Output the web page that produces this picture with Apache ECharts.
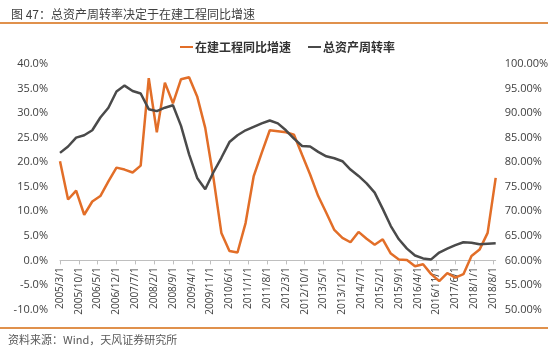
<!DOCTYPE html>
<html>
<head>
    <meta charset="UTF-8">
    <title>总资产周转率决定于在建工程同比增速</title>
    <style>
        html, body { margin: 0; padding: 0; background: #fff; }
        #main { width: 550px; height: 351px; }
    </style>
</head>
<body>
<div id="main"></div>
<script src="https://cdn.jsdelivr.net/npm/echarts@6/dist/echarts.min.js"></script>
<script>
    // 季度数据，起点 2005/3，终点 2018/9
    var startYear = 2005, startMonth = 3, monthCount = 163;
    var seriesNames = ['在建工程同比增速', '总资产周转率'];
    // 在建工程同比增速 (%)，左轴
    var cipGrowth = [20.2, 12.4, 14.2, 9.3, 12.0, 13.1, 16.1, 18.9, 18.5, 17.9,
        19.3, 37.1, 26.1, 36.2, 32.0, 36.9, 37.3, 33.4, 27.0, 17.0,
        5.6, 1.9, 1.6, 7.6, 17.1, 21.9, 26.5, 26.3, 26.1, 25.6,
        21.5, 17.5, 13.1, 9.7, 6.2, 4.6, 3.7, 5.8, 4.4, 3.2,
        4.3, 1.4, 0.2, 0.1, -1.2, -0.8, -2.8, -4.2, -2.6, -3.5,
        -2.8, 0.9, 2.2, 5.6, 16.8];
    // 总资产周转率 (%)，右轴
    var assetTurnover = [81.9, 83.2, 85.0, 85.5, 86.5, 89.1, 91.1, 94.4, 95.6, 94.5,
        94.0, 90.8, 90.4, 91.1, 91.6, 87.4, 81.6, 76.8, 74.5, 77.9,
        80.9, 84.1, 85.5, 86.5, 87.2, 87.9, 88.5, 87.9, 86.5, 84.8,
        83.3, 83.2, 82.1, 81.2, 80.8, 80.2, 78.5, 77.2, 75.7, 73.8,
        70.5, 67.0, 64.3, 62.4, 61.0, 60.4, 60.2, 61.6, 62.4, 63.1,
        63.7, 63.6, 63.3, 63.4, 63.5];
    var leftTicks = { min: -10, max: 40, interval: 5 };
    var rightTicks = { min: 50, max: 100, interval: 5 };

    // 月度横轴，季度数据落在每三个月一个点上
    var months = [];
    for (var i = 0; i < monthCount; i++) {
        var m = startMonth - 1 + i;
        months.push((startYear + Math.floor(m / 12)) + '/' + (m % 12 + 1) + '/1');
    }
    function toMonthly(arr) {
        var out = [];
        for (var i = 0; i < monthCount; i++) out.push(null);
        for (var j = 0; j < arr.length; j++) out[j * 3] = arr[j];
        return out;
    }

    var gridTop = 64, gridBottom = 41.5, chartH = 351;
    // 横轴放在左轴 0 的位置（Excel 默认交叉点）
    var plotH = chartH - gridTop - gridBottom;
    var zeroOffset = -plotH * (0 - leftTicks.min) / (leftTicks.max - leftTicks.min);

    var numFont = 'Open Sans';
    var cjkFont = 'Noto Sans CJK SC';
    var myChart = echarts.init(document.getElementById('main'));
    myChart.setOption({
        animation: false,
        backgroundColor: '#fff',
        title: {
            text: '图 47：总资产周转率决定于在建工程同比增速',
            left: 6, top: 3,
            textStyle: { fontSize: 12, fontWeight: 'normal', color: '#404040', fontFamily: cjkFont }
        },
        graphic: [
            { type: 'line', shape: { x1: 0, y1: 23, x2: 548, y2: 23 }, style: { stroke: '#E0914C', lineWidth: 2 } },
            { type: 'line', shape: { x1: 0, y1: 328, x2: 548, y2: 328 }, style: { stroke: '#E0914C', lineWidth: 2 } },
            { type: 'text', left: 8, top: 334, style: { text: '资料来源：Wind，天风证券研究所', fontSize: 11, fill: '#595959', fontFamily: cjkFont } }
        ],
        legend: {
            left: 175, top: 36,
            icon: 'rect', itemWidth: 13, itemHeight: 2, itemGap: 17,
            textStyle: { fontSize: 12, fontWeight: 'bold', color: '#333', fontFamily: cjkFont, padding: [0, 0, 0, -3] },
            data: seriesNames
        },
        grid: { left: 60, right: 54.3, top: gridTop, bottom: gridBottom, outerBoundsMode: 'none' },
        xAxis: {
            type: 'category',
            boundaryGap: false,
            data: months,
            offset: zeroOffset,
            axisLine: { onZero: false, lineStyle: { color: '#BFBFBF', width: 1 } },
            axisTick: { interval: 6, length: 4, lineStyle: { color: '#BFBFBF' } },
            axisLabel: { interval: 6, rotate: 90, margin: 7, fontSize: 10, color: '#404040', fontFamily: numFont }
        },
        yAxis: [{
            type: 'value',
            min: leftTicks.min, max: leftTicks.max, interval: leftTicks.interval,
            axisLine: { show: false }, axisTick: { show: false }, splitLine: { show: false },
            axisLabel: {
                margin: 12, fontSize: 11, color: '#404040', fontFamily: numFont,
                formatter: function (v) { return v.toFixed(1) + '%'; }
            }
        }, {
            type: 'value',
            min: rightTicks.min, max: rightTicks.max, interval: rightTicks.interval,
            axisLine: { show: false }, axisTick: { show: false }, splitLine: { show: false },
            axisLabel: {
                margin: 9, fontSize: 11, color: '#404040', fontFamily: numFont,
                formatter: function (v) { return v.toFixed(2) + '%'; }
            }
        }],
        series: [{
            name: seriesNames[0],
            type: 'line',
            yAxisIndex: 0,
            data: toMonthly(cipGrowth),
            connectNulls: true,
            showSymbol: false,
            color: '#E26E28',
            lineStyle: { width: 2.5, color: '#E26E28' }
        }, {
            name: seriesNames[1],
            type: 'line',
            yAxisIndex: 1,
            data: toMonthly(assetTurnover),
            connectNulls: true,
            showSymbol: false,
            color: '#4A4A4A',
            lineStyle: { width: 2.5, color: '#4A4A4A' }
        }]
    });
</script>
</body>
</html>
